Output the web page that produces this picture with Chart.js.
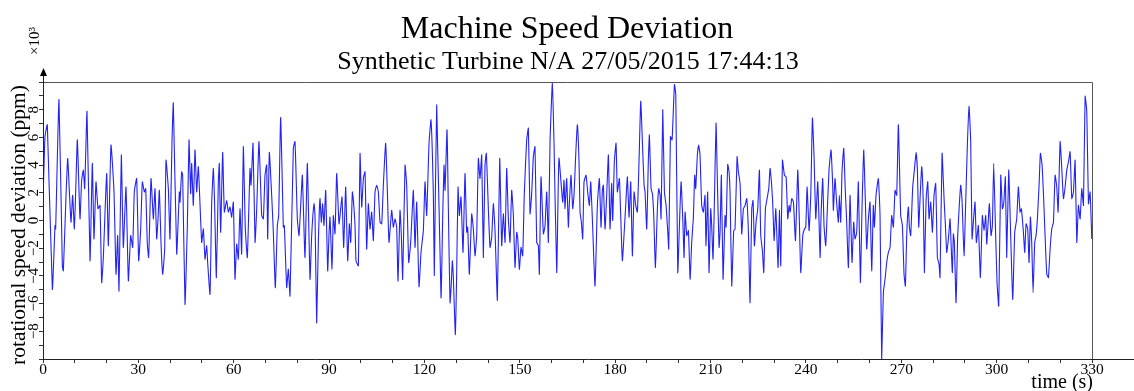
<!DOCTYPE html>
<html>
<head>
<meta charset="utf-8">
<script src="https://cdn.jsdelivr.net/npm/chart.js@4/dist/chart.umd.min.js"></script>
<style>
html,body{margin:0;padding:0;background:#fff;}
#wrap{width:1134px;height:391px;position:relative;}
</style>
</head>
<body>
<div id="wrap"><canvas id="c" width="1134" height="391"></canvas></div>
<script>
const chartTitle = "Machine Speed Deviation";
const chartSubtitle = "Synthetic Turbine N/A 27/05/2015 17:44:13";
const yAxisTitle = "rotational speed deviation (ppm)";
const xAxisTitle = "time (s)";
const yMultiplier = "×10³";
const xTickLabels = [0,30,60,90,120,150,180,210,240,270,300,330];
const yTickLabels = [-8,-6,-4,-2,0,2,4,6,8];

// time (s) of sampled turning points of the trace
const times = [
0.1,0.63,1.36,2.94,3.78,3.98,5.03,6.08,6.40,7.13,7.76,8.28,8.81,9.33,9.86,10.28,10.80,11.64,12.16,12.69,13.11,13.84,14.79,15.52,16.04,16.67,17.30,17.93,18.46,18.98,20.03,20.55,21.39,22.34,22.97,23.49,23.91,24.64,25.27,26.11,26.85,27.58,28.21,28.73,29.47,30.10,30.73,31.25,31.88,32.30,32.82,33.24,33.98,34.71,35.23,35.76,36.18,36.60,37.12,37.65,38.28,38.70,39.43,39.95,40.58,
41.00,42.05,42.89,43.10,43.62,43.94,44.67,45.41,45.93,46.46,46.77,47.29,47.82,48.34,48.87,49.92,50.44,50.97,51.49,51.80,52.54,53.06,53.59,54.01,54.53,55.16,55.47,55.89,56.52,57.05,57.78,58.31,58.83,59.35,59.88,60.40,60.93,61.45,61.97,62.50,63.02,63.65,64.28,65.12,65.44,66.07,66.70,67.23,67.95,68.79,69.32,69.84,70.37,70.68,71.20,71.94,72.46,73.09,73.72,74.14,74.77,75.61,75.92,76.66,77.18,77.71,78.75,79.28,80.01,80.54,81.17,81.59,
82.42,83.16,84.00,84.52,85.26,85.57,86.09,86.62,87.14,87.56,87.98,88.40,88.93,89.56,89.98,90.29,90.92,91.34,91.86,92.39,93.12,93.65,94.07,94.59,95.22,95.85,96.38,96.80,97.32,97.64,98.16,98.47,99.21,99.73,100.26,100.78,101.30,101.82,102.35,102.87,103.40,103.92,104.45,104.97,105.50,106.02,106.55,107.07,107.80,108.43,108.85,109.69,110.21,110.74,111.26,111.68,112.31,112.73,113.15,113.89,114.41,115.04,115.67,116.51,117.03,117.56,118.29,118.92,119.65,120.18,120.70,121.44,122.06,122.80,123.10,
123.85,125.21,125.73,126.15,126.47,127.10,127.52,128.04,128.36,128.78,129.09,129.72,130.14,130.56,130.98,131.50,132.13,132.76,133.28,133.60,134.12,134.86,135.38,135.91,136.43,136.96,137.48,138.01,138.53,139.05,139.47,140.10,140.63,141.15,141.68,142.20,142.94,143.67,144.30,144.82,145.35,145.87,146.40,146.92,147.44,147.97,148.49,149.02,149.33,149.86,150.38,150.90,151.43,152.16,152.69,153.21,153.73,154.26,154.78,155.31,155.83,156.15,156.67,157.41,157.93,158.46,158.98,159.51,160.24,160.77,161.61,162.30,
163.49,163.91,164.22,164.75,165.27,165.58,166.11,166.63,167.05,167.58,168.10,168.63,168.94,169.36,169.78,170.20,170.83,171.36,171.88,172.30,172.82,173.66,174.39,175.02,175.55,175.97,176.28,176.81,177.33,177.86,178.38,178.90,179.22,179.74,180.27,180.69,181.32,181.74,182.26,182.89,183.31,183.84,184.36,184.89,185.41,185.94,186.46,186.98,187.51,188.04,188.56,189.08,189.40,189.92,190.45,190.76,191.29,191.71,192.13,192.65,193.28,193.70,194.12,194.44,194.97,195.49,196.01,196.54,196.85,197.38,197.90,198.64,199.06,199.69,200.21,200.73,201.26,201.68,201.99,202.52,203.04,203.57,
204.07,204.60,205.01,205.33,205.85,206.27,206.69,207.22,207.74,208.26,208.58,209.10,209.52,210.05,210.36,210.78,211.20,211.73,212.15,212.68,212.99,213.41,213.93,214.56,214.88,215.40,215.82,216.14,216.66,217.29,217.71,218.34,218.76,219.29,219.81,220.33,220.86,221.38,221.91,222.43,222.96,223.38,223.80,224.32,224.85,225.37,225.79,226.32,226.74,227.26,227.78,228.31,228.73,229.15,229.57,229.99,230.51,230.83,231.25,231.67,232.09,232.61,233.24,233.77,234.29,234.71,235.03,235.55,236.08,236.71,237.44,237.96,238.38,239.01,239.54,239.96,240.38,241.00,241.53,242.05,242.58,243.10,243.73,244.47,
244.76,245.28,245.70,246.23,246.75,247.27,247.90,248.43,248.64,249.16,249.69,250.21,250.52,250.94,251.36,251.89,252.41,252.83,253.36,253.88,254.51,255.03,255.45,255.98,256.50,257.13,257.66,258.18,258.71,259.13,259.65,260.17,260.70,261.22,261.54,262.06,262.79,263.32,263.84,264.37,264.89,265.42,265.94,266.47,266.99,267.51,268.04,268.56,269.09,269.82,270.35,270.87,271.29,271.71,272.24,272.55,272.97,273.60,274.12,274.65,275.07,275.49,275.91,276.43,276.96,277.27,277.80,278.32,278.74,279.26,279.79,280.31,280.83,281.36,281.88,282.20,282.83,283.46,283.88,284.30,284.82,285.35,
285.65,286.07,286.39,286.70,287.23,287.75,288.28,288.70,289.12,289.74,290.27,290.79,291.32,291.84,292.26,292.68,293.20,293.62,294.25,294.88,295.51,296.04,296.56,296.88,297.30,297.72,298.24,298.66,299.08,299.61,300.13,300.66,301.29,301.81,302.23,302.75,303.17,303.80,304.33,305.06,305.69,306.32,306.84,307.37,307.79,308.42,308.84,309.26,309.78,310.20,310.62,311.04,311.46,311.98,312.40,312.82,313.35,313.77,314.30,314.72,315.24,315.77,316.29,316.82,317.34,317.87,318.39,318.92,319.34,319.97,320.49,321.02,321.54,322.07,322.59,323.11,323.64,324.16,324.69,325.21,325.73,326.26,326.78,327.31,327.83,328.36,328.88,329.40,329.93
];

// speed deviation (×10³ ppm) at those times
const deviation = [
2.18,6.06,6.91,-4.97,-0.36,-0.61,8.73,-3.27,-3.64,1.09,4.48,2.18,-0.12,1.82,-0.61,2.06,5.82,0.12,2.91,3.64,2.30,7.88,-2.91,4.12,-1.33,2.79,0.85,1.09,-4.48,-2.67,3.39,-1.82,5.45,2.06,-3.88,-1.09,-5.09,4.73,-1.94,2.42,-4.36,-1.09,-1.94,2.06,3.03,-2.91,-0.61,2.79,2.06,2.30,-1.70,-2.67,3.03,0.12,2.30,-1.33,0.12,2.18,-1.58,-3.88,-2.06,4.36,2.30,-1.33,5.70,
8.48,-2.42,2.06,1.33,3.52,3.27,-6.06,-0.36,5.82,1.94,4.12,1.09,5.09,2.06,3.88,-1.58,-0.61,-2.79,-1.82,-3.03,-5.33,1.21,3.76,0.97,-4.12,2.79,4.12,-0.85,4.92,0.61,1.45,0.61,0.97,0.24,1.33,-4.24,-1.70,-2.79,0.85,-2.42,5.33,-0.61,-2.67,3.76,2.55,5.58,-1.58,0.85,5.70,0.36,0.12,3.27,4.00,-1.33,4.92,1.82,-0.85,-4.85,-0.36,0.36,7.44,-0.48,-0.36,-4.85,-3.52,-5.45,5.21,5.70,0.12,-1.09,1.58,3.27,
-2.67,4.12,-4.24,-1.09,1.21,0.36,-7.39,-1.58,1.58,-0.12,1.21,-0.36,2.18,-3.64,-0.97,0.24,-3.52,0.36,-0.97,3.39,-0.24,0.85,1.70,-1.94,2.42,-2.91,-0.24,-1.58,2.06,1.45,-0.36,-2.91,-3.27,4.85,0.97,3.03,3.52,-2.06,1.21,-0.61,0.61,-1.45,2.06,2.55,2.06,-0.12,-0.24,2.55,5.58,1.33,-1.58,0.73,-0.48,0.12,-0.48,-4.36,0.73,-1.09,-4.24,4.00,2.55,-3.03,-1.58,2.18,-1.94,1.33,-4.78,-2.30,-0.73,2.79,0.36,5.58,7.27,1.82,-3.95,
8.36,-5.58,0.12,4.00,2.18,6.55,0.85,-5.94,-4.97,-2.91,-4.12,-8.24,-3.76,2.42,0.36,1.70,-2.30,3.39,-0.85,-0.48,-3.88,0.48,-0.61,-2.55,-1.09,4.48,3.03,4.73,-2.67,4.00,4.85,0.85,-1.94,-1.21,1.21,-0.73,-5.75,4.48,-1.82,0.48,-1.58,3.76,0.12,-1.58,2.18,0.36,-3.39,-0.85,-1.21,-3.52,-1.94,-2.55,2.06,5.82,6.67,0.48,1.94,4.61,5.33,-1.58,-1.82,-3.88,3.15,-0.97,-0.36,2.06,-1.58,5.70,9.94,5.45,-3.76,4.50,
1.33,2.91,0.85,3.03,-0.48,1.21,3.27,0.85,1.82,4.73,6.91,4.24,0.61,-0.12,-1.33,2.79,3.27,2.06,1.09,2.79,0.12,-4.73,1.09,3.03,-0.48,2.18,2.55,-0.61,1.82,4.73,-0.61,2.67,0.00,4.24,5.58,2.06,3.03,0.36,-2.91,-0.61,1.09,3.15,0.24,2.79,-2.55,2.06,1.09,0.61,4.36,8.61,5.70,2.55,2.06,-0.61,4.48,6.18,2.30,1.94,0.36,-3.39,0.85,2.30,1.82,0.12,8.00,2.06,1.09,-0.85,-2.06,6.06,5.82,9.82,9.09,-3.76,-0.36,2.79,0.12,-2.67,0.61,-1.09,-0.73,-4.24,
-1.58,0.24,3.27,2.30,4.73,5.45,4.73,1.09,0.61,1.82,-1.82,2.06,-3.76,0.85,-0.36,-2.79,1.21,7.03,2.79,-1.94,-0.85,3.27,-4.24,0.36,-0.48,4.05,3.52,2.06,-4.73,-0.73,-0.61,4.61,3.52,2.67,-0.97,0.85,1.09,1.58,-0.85,-5.94,0.85,1.45,-1.82,-0.12,0.85,3.64,-1.09,-2.18,-3.76,0.85,1.58,2.30,3.76,2.79,1.21,-1.45,0.85,-0.85,-3.39,0.73,-3.27,4.36,3.27,3.15,0.12,1.09,0.61,1.58,1.33,-1.45,3.64,-0.24,-3.76,-1.09,-0.61,-0.48,2.42,-0.73,1.82,7.39,4.48,0.12,2.79,-2.67,
0.36,3.03,-0.36,-1.82,0.85,3.64,5.09,2.55,0.73,3.03,1.21,-0.12,1.82,-0.12,3.52,5.21,2.06,-0.12,-3.39,1.82,-3.03,-0.12,-1.33,-0.85,2.79,-4.48,0.97,5.09,1.33,-2.06,0.12,1.33,-3.64,1.09,-0.48,1.82,3.03,0.36,-10.0,-5.21,-4.24,-3.03,-2.30,-1.94,0.36,-0.48,2.18,1.82,6.91,0.36,-0.36,-3.88,-4.73,-1.09,0.97,-0.48,-1.09,2.42,3.64,4.92,3.64,-0.48,1.58,3.88,0.85,-3.76,1.45,2.79,0.12,1.33,-0.85,1.82,2.67,-2.67,-3.15,-4.12,4.85,1.58,-0.36,-2.30,-1.33,0.12,
-1.58,-3.76,-0.97,-1.58,-5.94,-1.09,1.21,2.55,1.45,-2.55,1.33,5.45,8.24,5.70,-1.33,-0.12,1.33,-1.58,-0.36,-4.12,0.36,-0.73,0.36,-1.70,-0.24,1.21,-1.09,-0.36,4.12,-0.36,-4.48,-6.18,3.27,0.85,1.21,3.15,-2.67,3.64,-0.36,-5.70,-0.85,0.12,2.42,0.61,0.85,-0.85,-2.30,-0.24,-0.61,-3.03,0.24,-1.58,-5.21,-1.58,-1.09,0.12,2.55,4.85,4.00,1.94,-1.09,-3.88,-4.12,-2.06,-0.61,-0.12,3.27,2.42,0.61,5.70,3.76,1.58,2.42,3.64,4.24,4.97,1.58,2.06,4.36,-1.58,1.09,0.12,2.30,1.09,8.97,7.88,1.21,2.06,-1.33
];

const points = times.map((t, i) => ({x: t, y: deviation[i]}));
const SERIF = "'Liberation Serif', 'DejaVu Serif', serif";

const decor = {
  id: 'decor',
  afterDraw(chart) {
    const ctx = chart.ctx;
    const a = chart.chartArea;
    const ys = chart.scales.y;
    ctx.save();
    // frame top/right
    ctx.strokeStyle = '#555';
    ctx.lineWidth = 1;
    ctx.beginPath();
    ctx.moveTo(a.left, a.top + 0.5);
    ctx.lineTo(a.right + 0.5, a.top + 0.5);
    ctx.lineTo(a.right + 0.5, a.bottom);
    ctx.stroke();
    // axes lines
    ctx.strokeStyle = '#222';
    ctx.beginPath();
    ctx.moveTo(a.left + 0.5, a.bottom);
    ctx.lineTo(a.left + 0.5, a.top - 8);
    ctx.moveTo(a.left, a.bottom + 0.5);
    ctx.lineTo(chart.width, a.bottom + 0.5);
    ctx.stroke();
    // arrow
    ctx.fillStyle = '#000';
    ctx.beginPath();
    ctx.moveTo(a.left + 0.5, a.top - 14);
    ctx.lineTo(a.left - 3, a.top - 6);
    ctx.lineTo(a.left + 4, a.top - 6);
    ctx.closePath();
    ctx.fill();
    // y tick labels (rotated)
    ctx.fillStyle = '#000';
    ctx.font = "15px " + SERIF;
    ctx.textAlign = 'center';
    ctx.textBaseline = 'middle';
    yTickLabels.forEach(v => {
      const py = ys.getPixelForValue(v);
      ctx.save();
      ctx.translate(34, py);
      ctx.rotate(-Math.PI / 2);
      ctx.fillText(v < 0 ? '\u2212' + Math.abs(v) : String(v), 0, 0);
      ctx.restore();
    });
    // multiplier
    ctx.save();
    ctx.translate(35, 41);
    ctx.rotate(-Math.PI / 2);
    ctx.font = "15px " + SERIF;
    ctx.fillText(yMultiplier, 0, 0);
    ctx.restore();
    // y title
    ctx.save();
    ctx.translate(25, 225);
    ctx.rotate(-Math.PI / 2);
    ctx.font = "21.5px " + SERIF;
    ctx.textBaseline = 'alphabetic';
    ctx.fillText(yAxisTitle, 0, 0);
    ctx.restore();
    // x title
    ctx.font = "20px " + SERIF;
    ctx.textAlign = 'right';
    ctx.textBaseline = 'alphabetic';
    ctx.fillText(xAxisTitle, 1093, 388);
    // titles
    ctx.textAlign = 'center';
    ctx.font = "32px " + SERIF;
    ctx.fillText(chartTitle, 567, 38);
    ctx.font = "26px " + SERIF;
    ctx.fillText(chartSubtitle, 568, 69);
    ctx.restore();
  }
};

new Chart(document.getElementById('c'), {
  type: 'line',
  data: {
    datasets: [{
      data: points,
      borderColor: 'rgb(35,35,245)',
      borderWidth: 1.1,
      pointRadius: 0,
      tension: 0.15,
      fill: false
    }]
  },
  options: {
    responsive: false,
    animation: false,
    events: [],
    layout: { padding: { left: 0, right: 42, top: 82, bottom: 0 } },
    plugins: { legend: { display: false }, tooltip: { enabled: false }, title: { display: false } },
    scales: {
      x: {
        type: 'linear',
        min: 0, max: 330,
        border: { display: false },
        grid: { drawOnChartArea: false, drawTicks: true, tickLength: 4, color: '#333' },
        ticks: {
          stepSize: 10,
          autoSkip: false,
          maxRotation: 0,
          padding: -2,
          color: '#000',
          font: { family: SERIF, size: 15.5 },
          callback: (v) => xTickLabels.includes(v) ? String(v) : ''
        },
        afterFit: (s) => { s.height = 32; }
      },
      y: {
        type: 'linear',
        min: -10, max: 10,
        border: { display: false },
        grid: { drawOnChartArea: false, drawTicks: true, tickLength: 4, color: '#333' },
        ticks: { stepSize: 1, display: false },
        afterFit: (s) => { s.width = 43; }
      }
    }
  },
  plugins: [decor]
});
</script>
</body>
</html>
